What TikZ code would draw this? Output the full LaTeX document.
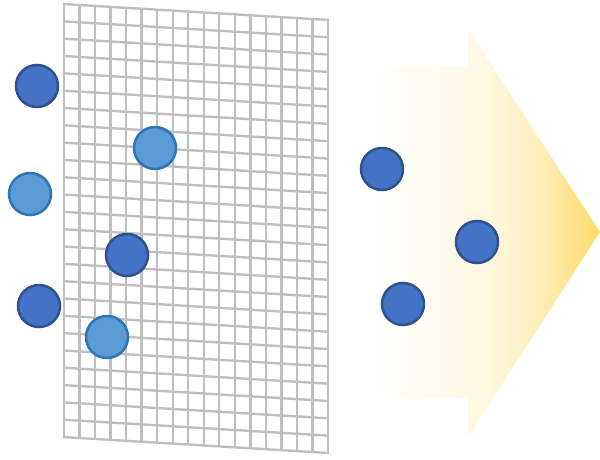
\documentclass[tikz,border=0pt]{standalone}
\usepackage{xcolor}
\usepackage{tikz}
\usetikzlibrary{positioning}

\definecolor{darkblue}{HTML}{4472C4}
\definecolor{darkrim}{HTML}{2F528F}
\definecolor{lightblue}{HTML}{5B9BD5}
\definecolor{lightrim}{HTML}{2E75B6}
\definecolor{gridgray}{HTML}{BFBFBF}
\definecolor{arrowgold}{HTML}{FFD966}

\pgfdeclarehorizontalshading{goldfade}{100bp}{%
  color(0bp)=(white); color(25bp)=(white);
  color(50bp)=(arrowgold!20!white); color(62bp)=(arrowgold!45!white);
  color(75bp)=(arrowgold); color(100bp)=(arrowgold)}

\begin{document}
\begin{tikzpicture}[x=1pt,y=-1pt,
  dot/.style={circle,draw,minimum size=42pt,inner sep=0pt,line width=2.5pt},
  dark/.style={dot,fill=darkblue,draw=darkrim},
  light/.style={dot,fill=lightblue,draw=lightrim},
  gridline/.style={draw=gridgray,line width=2.4pt}]
\useasboundingbox (0,0) rectangle (600,459);

% arrow
\shade[shading=goldfade] (370,67) -- (468,67) -- (468,29) -- (600,232)
  -- (468,437) -- (468,398) -- (370,398) -- cycle;

% slanted grid
\foreach \i in {0,...,17}
  \draw[gridline] (64+\i*264/17,4+\i*16/17) -- (64+\i*264/17,437+\i*16/17);
\foreach \j in {0,...,25}
  \draw[gridline] (63,4+\j*433/25) -- (329,20+\j*433/25);

% particles
\node[dark]  (d1) at (37,86) {};
\node[light] (l1) at (155,148) {};
\node[light] (l2) at (30,194) {};
\node[dark]  (d2) at (127,255) {};
\node[dark]  (d3) at (39,306) {};
\node[light] (l3) at (107,337) {};
\node[dark]  (d4) at (382,169) {};
\node[dark]  (d5) at (477,242) {};
\node[dark]  (d6) at (403,304) {};
\end{tikzpicture}
\end{document}
